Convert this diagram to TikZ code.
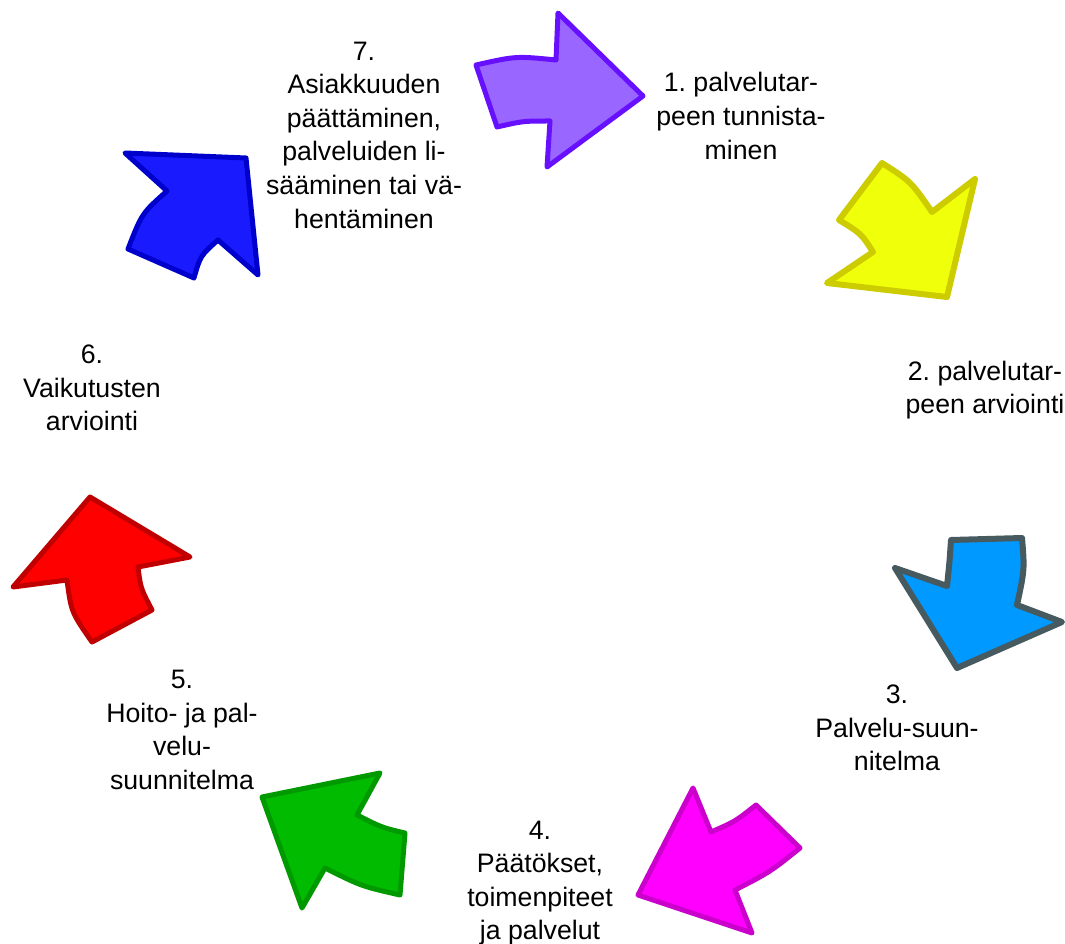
\documentclass[tikz,border=0pt]{standalone}
\usepackage{fontspec}
\setmainfont{Liberation Sans}
\definecolor{purF}{HTML}{9966FF}\definecolor{purS}{HTML}{6610FF}
\definecolor{yelF}{HTML}{F0FF0A}\definecolor{yelS}{HTML}{CCCC00}
\definecolor{cyaF}{HTML}{0099FF}\definecolor{cyaS}{HTML}{465A60}
\definecolor{magF}{HTML}{FF00FF}\definecolor{magS}{HTML}{CC00CC}
\definecolor{grnF}{HTML}{00BB00}\definecolor{grnS}{HTML}{009900}
\definecolor{redF}{HTML}{FF0000}\definecolor{redS}{HTML}{C00000}
\definecolor{bluF}{HTML}{1A1AFF}\definecolor{bluS}{HTML}{0000CC}
\begin{document}
\frenchspacing
\begin{tikzpicture}[x=1pt,y=-1pt,
  arrowshape/.style={line width=5pt,line join=round},
  lbl/.style={align=center,inner sep=0pt,font=\fontsize{26.7}{33.6}\selectfont}]
\useasboundingbox (0,0) rectangle (1065,944);
% arrow 1 (purple)
\draw[arrowshape,draw=purS,fill=purF] (476,65) .. controls (516,56) .. (556,60) -- (558,13) -- (643,96) -- (547,167) -- (550,121) .. controls (523,121) .. (497,127) -- cycle;
% arrow 2 (yellow)
\draw[arrowshape,line width=6pt,draw=yelS,fill=yelF] (882,163) .. controls (911,181.5) .. (932,212) -- (975,179) -- (947,297) -- (827,283) -- (873,252) .. controls (861.3,233.7) .. (839,220) -- cycle;
% arrow 3 (cyan)
\draw[arrowshape,line width=6pt,draw=cyaS,fill=cyaF] (951,540) -- (1022,538) .. controls (1024.6,569.5) .. (1017,605) -- (1062,622) -- (957,668) -- (895,568) -- (947,586) .. controls (949.5,562) .. cycle;
% arrow 4 (magenta)
\draw[arrowshape,draw=magS,fill=magF] (693,788) -- (711,832) .. controls (735,821.6) .. (756,805) -- (800,848) .. controls (770,872) .. (735,890) -- (752,933) -- (638,895) -- cycle;
% arrow 5 (green)
\draw[arrowshape,draw=grnS,fill=grnF] (262,797) -- (380,773) -- (357,815) .. controls (382,827.6) .. (405,833) -- (400,895) .. controls (361.4,886.2) .. (325,868) -- (302,908) -- cycle;
% arrow 6 (red)
\draw[arrowshape,draw=redS,fill=redF] (90,497) -- (190,557) -- (138,567) .. controls (140.6,588.2) .. (152,610) -- (92,642) .. controls (71.2,612) .. (67,580) -- (13,587) -- cycle;
% arrow 7 (blue)
\draw[arrowshape,draw=bluS,fill=bluF] (125,153) -- (246,158) -- (258,275) -- (218,240) .. controls (200.3,255.9) .. (194,278) -- (128,249) .. controls (141.9,213.3) .. (167,191) -- cycle;
% labels
\node[lbl] (t7) at (364,135) {7.\\Asiakkuuden\\päättäminen,\\palveluiden li-\\sääminen tai vä-\\hentäminen};
\node[lbl] (t1) at (741,116) {1. palvelutar-\\peen tunnista-\\minen};
\node[lbl] (t2) at (985,390) {2. palvelutar-\\peen arviointi};
\node[lbl] (t3) at (897,728) {3.\\Palvelu-suun-\\nitelma};
\node[lbl] (t4) at (540,883) {4.\\Päätökset,\\toimenpiteet\\ja palvelut};
\node[lbl] (t5) at (182,730) {5.\\Hoito- ja pal-\\velu-\\suunnitelma};
\node[lbl] (t6) at (92,388) {6.\\Vaikutusten\\arviointi};
\end{tikzpicture}
\end{document}
